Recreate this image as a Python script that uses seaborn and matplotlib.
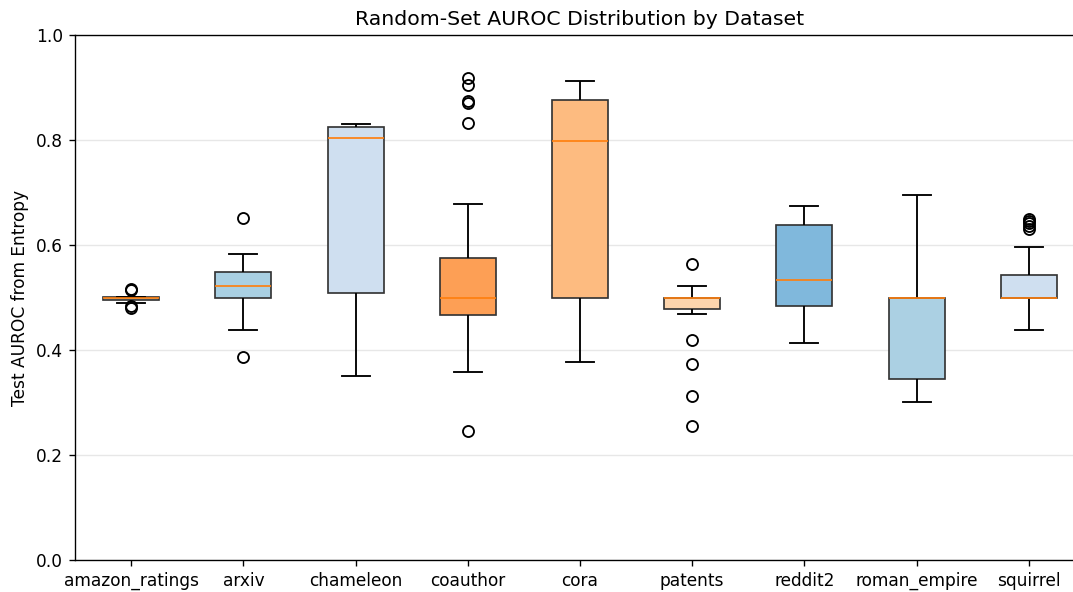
import pandas as pd
import seaborn as sns
import matplotlib.pyplot as plt

# Per-dataset AUROC samples
datasets = ['amazon_ratings', 'arxiv', 'chameleon', 'coauthor', 'cora',
            'patents', 'reddit2', 'roman_empire', 'squirrel']

amazon_ratings = [0.480, 0.483, 0.489, 0.495, 0.497, 0.499, 0.500, 0.500,
                  0.501, 0.501, 0.501, 0.514, 0.517]
arxiv = [0.387, 0.439, 0.499, 0.510, 0.522, 0.536, 0.549, 0.583, 0.651]
chameleon = [0.350, 0.508, 0.804, 0.825, 0.830]
coauthor = [0.246, 0.359, 0.392, 0.418, 0.437, 0.455, 0.466, 0.472, 0.479,
            0.485, 0.491, 0.497, 0.500, 0.508, 0.521, 0.534, 0.548, 0.561,
            0.576, 0.679, 0.832, 0.870, 0.874, 0.904, 0.918]
cora = [0.377, 0.500, 0.799, 0.876, 0.912]
patents = [0.255, 0.312, 0.374, 0.420, 0.469, 0.479, 0.483, 0.488, 0.492,
           0.496, 0.500, 0.500, 0.500, 0.500, 0.500, 0.500, 0.500, 0.500,
           0.510, 0.522, 0.563]
reddit2 = [0.413, 0.483, 0.533, 0.638, 0.674]
roman_empire = [0.301, 0.344, 0.500, 0.500, 0.695]
squirrel = [0.438, 0.462, 0.480, 0.492, 0.500, 0.500, 0.500, 0.500, 0.500,
            0.500, 0.500, 0.500, 0.500, 0.505, 0.512, 0.520, 0.528, 0.535,
            0.542, 0.596, 0.631, 0.636, 0.641, 0.645, 0.649]

box_colors = ['#a9d0e3', '#a9d0e3', '#cfdff0', '#fd9f55', '#fdbb80',
              '#fdd5ad', '#80b8dc', '#abd0e3', '#cfdff0']

samples = [amazon_ratings, arxiv, chameleon, coauthor, cora,
           patents, reddit2, roman_empire, squirrel]
rows = []
for name, vals in zip(datasets, samples):
    for v in vals:
        rows.append({'Dataset': name, 'AUROC': v})
df = pd.DataFrame(rows)

fig = plt.figure(figsize=(1073 / 122, 592 / 122), dpi=122)
ax = fig.add_axes([75 / 1073, 32 / 592, 1010 / 1073, 525 / 592])

sns.boxplot(data=df, x='Dataset', y='AUROC', hue='Dataset', order=datasets,
            hue_order=datasets, palette=box_colors, saturation=1, width=0.5,
            legend=False, linewidth=1.0, linecolor='#333333', ax=ax,
            medianprops={'color': '#ff7f0e', 'linewidth': 1.0},
            whiskerprops={'color': 'black', 'linewidth': 1.1},
            capprops={'color': 'black', 'linewidth': 1.1},
            flierprops={'marker': 'o', 'markerfacecolor': 'none',
                        'markeredgecolor': 'black', 'markersize': 6.5,
                        'markeredgewidth': 1.1})

ax.set_xlim(-0.5, 8.5)
ax.set_ylim(0, 1.0)
ax.set_xlabel('')
ax.set_ylabel('Test AUROC from Entropy')
ax.set_title('Random-Set AUROC Distribution by Dataset')
ax.yaxis.grid(True, alpha=0.3)
ax.set_axisbelow(True)

fig.savefig('out.png', dpi=122)
